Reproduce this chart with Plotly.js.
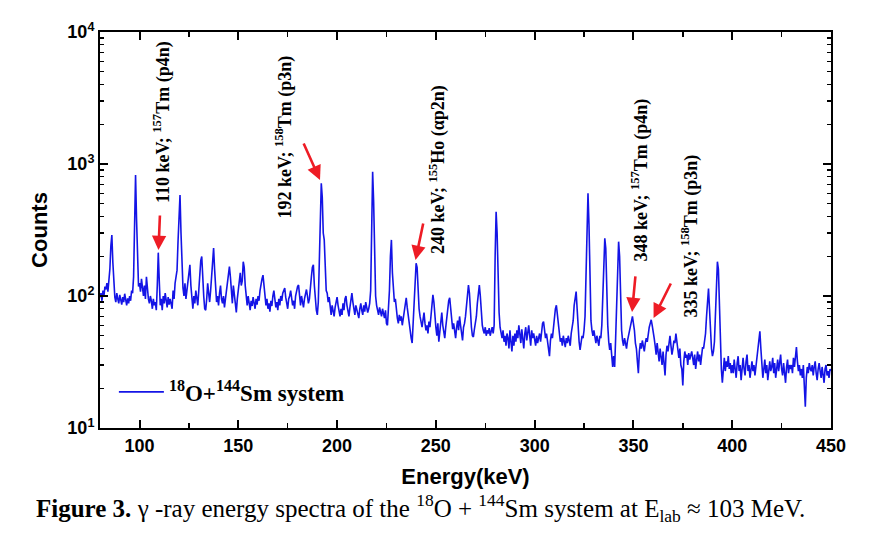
<!DOCTYPE html>
<html>
<head>
<meta charset="utf-8">
<script src="https://cdn.plot.ly/plotly-3.0.1.min.js"></script>
<style>html,body{margin:0;padding:0;background:#fff;}#chart{width:870px;height:537px;}</style>
</head>
<body>
<div id="chart"></div>
<script>
// Channel calibration of the spectrum: first energy and step (keV)
const energyStart = 80;
const energyStep = 0.5;

// Counts, 0.5 keV per value
const counts080 = [
  98,105,92,110,100,118,112,125,108,130,160,240,290,180,120,98,90,105,95,88,
  102,93,86,98,90,104,92,85,96,88,100,92,110,105,140,420,826,380,150,118,
  125,108,135,115,100,120,95,140,110,95,88,100,92,80,95,85,90,78,120,213,
  130,85,95,78,100,88,105,92,82,98,86,95,88,80,110,95,125,150,157,260,
  480,582,300,150,115,100,125,95,110,140,150,172,120,95,80,100,88,110,95,85
];
const counts130 = [
  110,150,185,199,130,100,80,78,95,125,105,90,110,140,190,231,160,105,90,100,
  85,105,120,95,88,100,82,95,110,135,150,167,140,105,88,120,100,80,75,95,
  115,140,150,120,130,182,165,120,95,85,100,88,78,92,84,98,88,80,95,86,
  100,92,110,125,135,144,120,100,85,95,80,88,76,92,84,100,110,95,82,90,
  78,95,85,100,92,105,110,115,98,88,80,95,100,110,98,85,92,80,100,110
];
const counts180 = [
  118,121,95,85,100,90,82,95,105,112,100,88,95,110,140,165,172,120,90,78,
  72,90,180,450,714,560,300,266,160,110,105,90,98,80,72,85,78,70,82,90,
  98,85,76,70,80,72,88,78,95,100,85,75,70,82,95,105,90,78,72,85,
  80,74,68,80,88,78,72,85,76,90,82,75,80,88,110,350,874,520,160,100,
  85,80,72,82,76,70,80,74,68,78,62,60,75,110,200,266,150,105,90,95
];
const counts230 = [
  75,68,62,72,65,70,60,68,80,92,97,82,70,62,55,48,44,60,90,140,
  177,165,110,80,70,62,58,66,75,62,55,60,52,64,58,70,85,102,90,68,
  58,50,62,45,55,70,75,60,52,48,58,68,80,92,97,80,65,56,62,52,
  48,58,65,55,70,60,50,46,58,62,70,85,100,121,105,75,58,50,49,56,
  62,70,88,110,121,100,75,60,55,52,58,50,55,52,57,50,54,58,52,60
];
const counts280 = [
  200,435,300,130,75,58,52,48,55,45,50,42,52,48,40,55,45,38,50,42,
  52,45,55,48,60,52,44,56,48,40,52,58,46,55,60,50,42,55,48,52,
  46,42,50,44,48,52,45,55,62,64,55,48,52,44,40,35,46,52,48,60,
  72,80,85,70,58,50,45,48,42,50,46,41,48,44,50,46,42,52,58,65,
  85,100,108,80,55,45,39,44,50,48,55,70,150,380,600,350,120,65,55,50
];
const counts330 = [
  55,48,44,50,46,42,50,48,60,110,200,274,230,110,60,45,39,44,36,29,
  35,29,48,90,200,258,200,90,55,46,42,48,44,40,46,50,55,62,68,70,
  62,55,44,40,32,26,38,44,40,46,42,38,44,48,45,52,58,62,66,60,
  55,48,42,36,44,38,32,40,35,30,38,28,25,36,42,38,46,50,42,36,
  40,46,44,52,45,38,34,40,30,28,21,32,38,34,36,30,37,33,35,38
];
const counts380 = [
  34,30,36,28,33,38,32,36,30,34,41,40,45,52,70,100,114,80,50,40,
  35,38,45,80,150,182,160,90,40,28,22,30,34,27,32,29,35,28,31,26,
  30,26,33,28,24,31,35,27,30,23,29,34,28,25,32,36,27,30,24,29,
  32,27,30,25,29,34,40,48,54,40,30,24,28,33,26,30,23,28,32,27,
  29,34,26,31,24,28,33,27,30,36,28,25,31,27,22,29,33,26,30,28
];
const counts430 = [
  30,26,34,29,36,41,32,27,30,25,28,24,30,20,14.5,24,29,26,31,28,
  27,30,25,29,32,26,23,28,31,27,24,29,26,22,28,30,25,27,24,28,27
];

const seriesName = '<sup>18</sup>O+<sup>144</sup>Sm system';
const xTickLabels = ['100','150','200','250','300','350','400','450'];
const yTickVals = [10, 100, 1000, 10000];
const yTickLabels = ['10<sup>1</sup>','10<sup>2</sup>','10<sup>3</sup>','10<sup>4</sup>'];
const yMinorVals = [20,30,40,50,60,70,80,90,200,300,400,500,600,700,800,900,2000,3000,4000,5000,6000,7000,8000,9000];

// Peak labels: [text, energy (keV), log10 counts of text bottom]
const peakLabels = [
  ['110 keV; <sup>157</sup>Tm (p4n)', 111.4, 2.689],
  ['192 keV; <sup>158</sup>Tm (p3n)', 173.6, 2.576],
  ['240 keV; <sup>155</sup>Ho (αp2n)', 250.8, 2.303],
  ['348 keV; <sup>157</sup>Tm (p4n)', 353.3, 2.25],
  ['335 keV; <sup>158</sup>Tm (p3n)', 379.1, 1.826]
];
// Arrow tips: [energy, log10 counts, ax px, ay px]
const arrowTips = [
  [109.6, 2.348, 1.5, -36],
  [191.35, 2.879, -17, -38],
  [239.7, 2.273, 8, -38],
  [349.3, 1.879, 3.5, -37],
  [360.2, 1.833, 18, -36]
];

const counts = [].concat(counts080, counts130, counts180, counts230, counts280, counts330, counts380, counts430);
const energy = counts.map((_, i) => energyStart + i * energyStep);

const serif = 'Liberation Serif, Times New Roman, serif';
const sans = 'Liberation Sans, Arial, sans-serif';

const annotations = [];
peakLabels.forEach(p => {
  annotations.push({
    text: p[0], x: p[1], y: p[2], xref: 'x', yref: 'y',
    textangle: -90, xanchor: 'center', yanchor: 'bottom', showarrow: false,
    font: {family: serif, size: 18, color: '#000', weight: 'bold'}
  });
});
arrowTips.forEach(a => {
  annotations.push({
    text: '', x: a[0], y: a[1], xref: 'x', yref: 'y',
    showarrow: true, ax: a[2], ay: a[3], arrowhead: 2, arrowsize: 1.1,
    arrowwidth: 2.6, arrowcolor: '#ee1c25', standoff: 0
  });
});
annotations.push({
  text: '<b>Figure 3.</b> γ -ray energy spectra of the <sup>18</sup>O + <sup>144</sup>Sm system at E<sub>lab</sub> ≈ 103 MeV.',
  xref: 'paper', yref: 'paper', x: 0.4378, y: -0.202, xanchor: 'center', yanchor: 'middle',
  showarrow: false, font: {family: serif, size: 25, color: '#000'}
});

const trace = {
  x: energy, y: counts, type: 'scatter', mode: 'lines', name: seriesName,
  line: {color: '#1414e6', width: 1.6}
};

const layout = {
  width: 870, height: 537,
  margin: {l: 100, r: 39, t: 32, b: 109},
  paper_bgcolor: '#fff', plot_bgcolor: '#fff',
  showlegend: true,
  legend: {
    x: 0.019, y: 0.091, xanchor: 'left', yanchor: 'middle',
    bgcolor: 'rgba(0,0,0,0)', itemwidth: 45,
    font: {family: serif, size: 23, color: '#000', weight: 'bold'}
  },
  xaxis: {
    range: [80, 450], tickmode: 'array', tickvals: xTickLabels.map(Number), ticktext: xTickLabels,
    ticks: 'inside', ticklen: 8, tickwidth: 2, tickcolor: '#000',
    showline: true, linewidth: 2, linecolor: '#000', mirror: 'ticks',
    showgrid: false, zeroline: false,
    minor: {ticks: 'inside', ticklen: 5, tickwidth: 1.5, dtick: 25, tick0: 0, tickcolor: '#000', showgrid: false},
    tickfont: {family: sans, size: 18, color: '#000', weight: 'bold'},
    title: {text: 'Energy(keV)', standoff: 14, font: {family: sans, size: 22, color: '#000', weight: 'bold'}}
  },
  yaxis: {
    type: 'log', range: [1, 4], tickmode: 'array', tickvals: yTickVals, ticktext: yTickLabels,
    ticks: 'inside', ticklen: 8, tickwidth: 2, tickcolor: '#000',
    showline: true, linewidth: 2, linecolor: '#000', mirror: 'ticks',
    showgrid: false, zeroline: false,
    minor: {ticks: 'inside', ticklen: 4, tickwidth: 1.2, tickvals: yMinorVals, tickcolor: '#000', showgrid: false},
    tickfont: {family: sans, size: 18, color: '#000', weight: 'bold'},
    title: {text: 'Counts', standoff: 14, font: {family: sans, size: 22, color: '#000', weight: 'bold'}}
  },
  annotations: annotations
};

Plotly.newPlot('chart', [trace], layout, {displayModeBar: false, staticPlot: true});
</script>
</body>
</html>
